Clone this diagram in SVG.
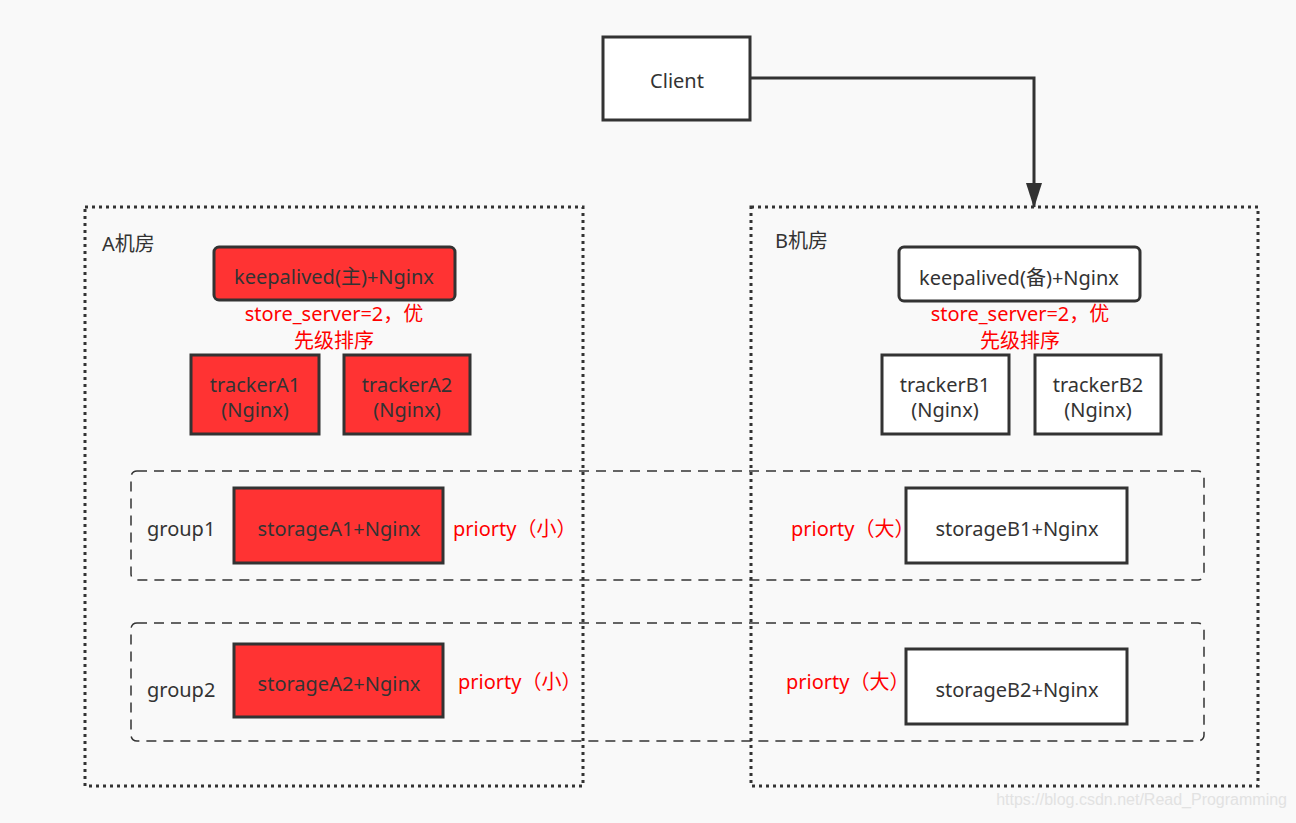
<svg xmlns="http://www.w3.org/2000/svg" width="1296" height="823" viewBox="0 0 1296 823">
<defs>
<style>
.t{font-family:"Noto Sans","Noto Sans CJK SC","Liberation Sans",sans-serif;font-size:20px;fill:#333333;text-anchor:middle;dominant-baseline:central}
.lt{text-anchor:start}
.r{fill:#FF0000}
.box{stroke:#333333;stroke-width:3}
.red{fill:#FF3333}
.wh{fill:#FFFFFF}
.room{fill:none;stroke:#333333;stroke-width:3;stroke-dasharray:3 4}
.grp{fill:none;stroke:#333333;stroke-width:1.5;stroke-dasharray:10 7}
</style>
<marker id="ah" markerWidth="26" markerHeight="16" refX="24" refY="8" orient="auto" markerUnits="userSpaceOnUse" viewBox="0 0 26 16">
<path d="M0,0 L25,8 L0,16 Z" fill="#333333"/>
</marker>
</defs>
<rect width="1296" height="823" fill="#F9F9F9"/>

<g id="roomA">
<rect class="room" x="85" y="207" width="498" height="579"/>
<text class="t lt" x="102" y="243">A机房</text>
</g>
<g id="roomB">
<rect class="room" x="751" y="207" width="507" height="579"/>
<text class="t lt" x="775" y="240">B机房</text>
</g>
<g id="group1">
<rect class="grp" x="131" y="471" width="1073" height="109" rx="6"/>
<text class="t lt" x="147" y="528">group1</text>
</g>
<g id="group2">
<rect class="grp" x="131" y="623" width="1073" height="118" rx="6"/>
<text class="t lt" x="147" y="689">group2</text>
</g>

<g id="client">
<rect class="box wh" x="603" y="37" width="147" height="83"/>
<text class="t" x="677" y="80">Client</text>
</g>

<g id="keepalivedA">
<rect class="box red" x="214" y="247" width="241" height="53" rx="5"/>
<text class="t" x="334" y="276">keepalived(主)+Nginx</text>
<text class="t r" x="334" y="313">store_server=2，优</text>
<text class="t r" x="334" y="340">先级排序</text>
</g>
<g id="trackerA1">
<rect class="box red" x="191" y="355" width="128" height="79"/>
<text class="t" x="255" y="384">trackerA1</text>
<text class="t" x="255" y="409">(Nginx)</text>
</g>
<g id="trackerA2">
<rect class="box red" x="344" y="355" width="126" height="79"/>
<text class="t" x="407" y="384">trackerA2</text>
<text class="t" x="407" y="409">(Nginx)</text>
</g>

<g id="keepalivedB">
<rect class="box wh" x="899" y="247" width="241" height="54" rx="5"/>
<text class="t" x="1019" y="277">keepalived(备)+Nginx</text>
<text class="t r" x="1020" y="313">store_server=2，优</text>
<text class="t r" x="1020" y="340">先级排序</text>
</g>
<g id="trackerB1">
<rect class="box wh" x="882" y="355" width="127" height="79"/>
<text class="t" x="945" y="384">trackerB1</text>
<text class="t" x="945" y="409">(Nginx)</text>
</g>
<g id="trackerB2">
<rect class="box wh" x="1035" y="355" width="126" height="79"/>
<text class="t" x="1098" y="384">trackerB2</text>
<text class="t" x="1098" y="409">(Nginx)</text>
</g>

<g id="storageA1">
<rect class="box red" x="234" y="488" width="209" height="75"/>
<text class="t" x="339" y="528">storageA1+Nginx</text>
<text class="t r lt" x="453" y="528">priorty（小）</text>
</g>
<g id="storageA2">
<rect class="box red" x="234" y="644" width="209" height="73"/>
<text class="t" x="339" y="683">storageA2+Nginx</text>
<text class="t r lt" x="458" y="681">priorty（小）</text>
</g>
<g id="storageB1">
<rect class="box wh" x="906" y="488" width="221" height="75"/>
<text class="t" x="1017" y="528">storageB1+Nginx</text>
<text class="t r lt" x="791" y="528">priorty（大）</text>
</g>
<g id="storageB2">
<rect class="box wh" x="906" y="649" width="221" height="75"/>
<text class="t" x="1017" y="689">storageB2+Nginx</text>
<text class="t r lt" x="786" y="681">priorty（大）</text>
</g>

<g id="connectors">
<path d="M751,78 L1034,78 L1034,207" fill="none" stroke="#333333" stroke-width="3" marker-end="url(#ah)"/>
</g>

<text x="1287" y="805" font-family="Liberation Sans,Arial,sans-serif" font-size="16" fill="#E2E2E2" text-anchor="end">https://blog.csdn.net/Read_Programming</text>
</svg>
